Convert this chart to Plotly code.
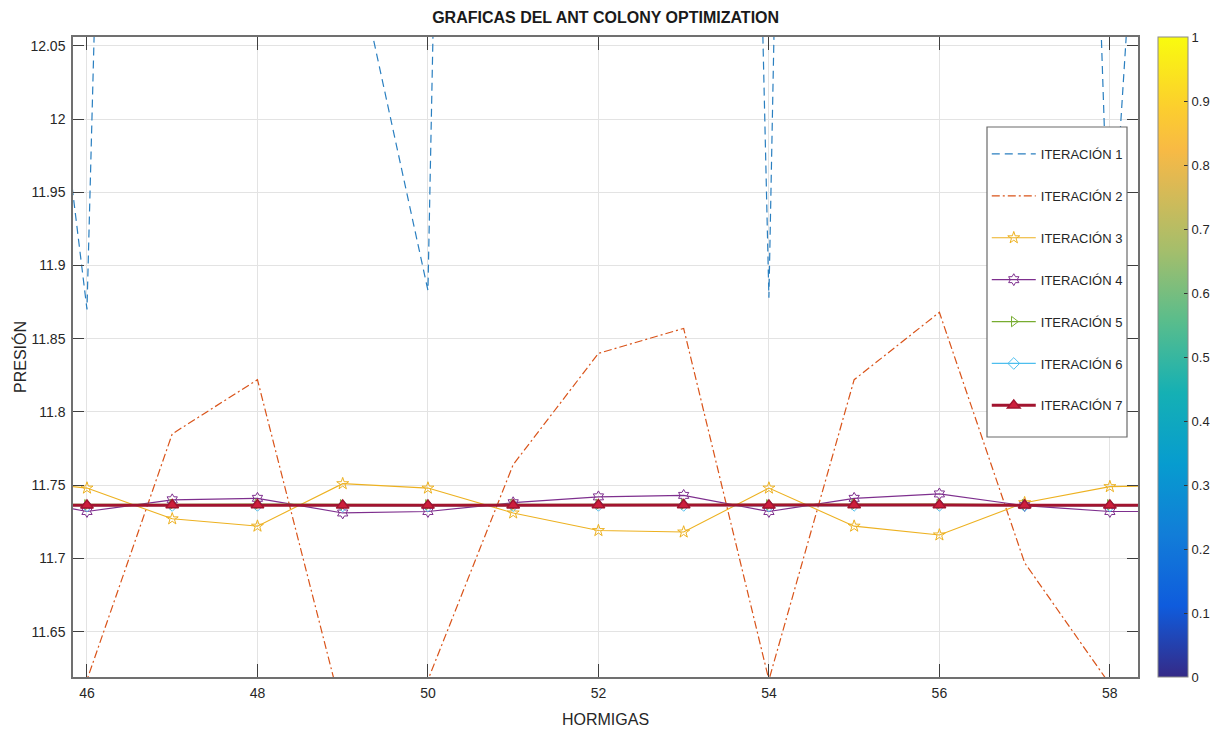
import plotly.graph_objects as go

# ---------------- data ----------------
hormigas = [45, 46, 47, 48, 49, 50, 51, 52, 53, 54, 55, 56, 57, 58, 59]

iter1 = [12.35, 11.870, 14.10, 13.20, 12.151, 11.883, 14.83, 14.00, 14.40, 11.878, 14.90, 14.20, 13.64, 11.880, 12.80]
iter2 = [11.600, 11.617, 11.785, 11.822, 11.594, 11.617, 11.764, 11.840, 11.857, 11.617, 11.822, 11.868, 11.697, 11.614, 11.600]
iter3 = [11.754, 11.748, 11.727, 11.722, 11.751, 11.748, 11.731, 11.719, 11.718, 11.748, 11.722, 11.716, 11.738, 11.749, 11.750]
iter4 = [11.743, 11.732, 11.740, 11.741, 11.731, 11.732, 11.738, 11.742, 11.743, 11.732, 11.741, 11.744, 11.736, 11.732, 11.732]
iter5 = [11.7368, 11.7366, 11.7369, 11.7370, 11.7366, 11.7366, 11.7368, 11.7369, 11.7370, 11.7366, 11.7369, 11.7370, 11.7367, 11.7366, 11.7366]
iter6 = [11.7360, 11.7358, 11.7361, 11.7362, 11.7358, 11.7358, 11.7360, 11.7362, 11.7362, 11.7358, 11.7362, 11.7362, 11.7360, 11.7358, 11.7358]
iter7 = [11.7363, 11.7362, 11.7364, 11.7365, 11.7362, 11.7362, 11.7363, 11.7364, 11.7365, 11.7362, 11.7364, 11.7365, 11.7363, 11.7362, 11.7362]

series_names = ["ITERACIÓN 1", "ITERACIÓN 2", "ITERACIÓN 3", "ITERACIÓN 4",
                "ITERACIÓN 5", "ITERACIÓN 6", "ITERACIÓN 7"]

x_tickvals = [46, 48, 50, 52, 54, 56, 58]
x_ticktext = ["46", "48", "50", "52", "54", "56", "58"]
y_tickvals = [11.65, 11.70, 11.75, 11.80, 11.85, 11.90, 11.95, 12.00, 12.05]
y_ticktext = ["11.65", "11.7", "11.75", "11.8", "11.85", "11.9", "11.95", "12", "12.05"]
cb_tickvals = [0, 0.1, 0.2, 0.3, 0.4, 0.5, 0.6, 0.7, 0.8, 0.9, 1]
cb_ticktext = ["0", "0.1", "0.2", "0.3", "0.4", "0.5", "0.6", "0.7", "0.8", "0.9", "1"]

title_text = "GRAFICAS DEL ANT COLONY OPTIMIZATION"
x_title = "HORMIGAS"
y_title = "PRESIÓN"

# ---------------- style ----------------
FONT = "Liberation Sans, Arial, sans-serif"
TXT = "#262626"

parula = [
    [0.000, "#352a87"], [0.111, "#0f5cdd"], [0.222, "#127dd8"], [0.333, "#079ccf"],
    [0.444, "#15b0b4"], [0.556, "#59bd8c"], [0.667, "#a5be6b"], [0.778, "#e1b952"],
    [0.825, "#f8ba44"], [0.889, "#fcce2e"], [1.000, "#f9fb0e"],
]

styles = [
    dict(color="#2a7fc0", width=1.2, dash="8px,5px", symbol=None),
    dict(color="#D95319", width=1.2, dash="8px,3px,2px,3px", symbol=None),
    dict(color="#EDB120", width=1.1, dash="solid", symbol="star-open"),
    dict(color="#7E2F8E", width=1.2, dash="solid", symbol="hexagram-open"),
    dict(color="#77AC30", width=1.3, dash="solid", symbol="triangle-right-open"),
    dict(color="#4DBEEE", width=1.3, dash="solid", symbol="diamond-open"),
    dict(color="#A2142F", width=3.0, dash="solid", symbol="triangle-up"),
]

all_series = [iter1, iter2, iter3, iter4, iter5, iter6, iter7]

fig = go.Figure()
for i, (ys, name, st) in enumerate(zip(all_series, series_names, styles)):
    kw = dict(
        x=hormigas, y=ys, name=name, legendgroup=f"g{i}",
        line=dict(color=st["color"], width=st["width"], dash=st["dash"]),
    )
    if st["symbol"] is None:
        kw["mode"] = "lines"
    else:
        kw["mode"] = "lines+markers"
        if i == 6:
            kw["marker"] = dict(symbol=st["symbol"], size=11, color="#CE1E3C",
                                line=dict(color="#A2142F", width=1.5))
        else:
            kw["marker"] = dict(symbol=st["symbol"], size=9, color=st["color"],
                                line=dict(color=st["color"], width=1))
    fig.add_trace(go.Scatter(**kw))

# colorbar (parula, 0..1)
fig.add_trace(go.Scatter(
    x=[None], y=[None], mode="markers", showlegend=False, hoverinfo="skip",
    marker=dict(colorscale=parula, cmin=0, cmax=1, color=[0], showscale=True,
                colorbar=dict(
                    x=1.0188, xanchor="left", y=0.5, yanchor="middle",
                    len=1.0, lenmode="fraction", thickness=30, thicknessmode="pixels",
                    ypad=0, xpad=0,
                    outlinewidth=1, outlinecolor="#8a8a8a",
                    tickvals=cb_tickvals, ticktext=cb_ticktext,
                    ticks="inside", ticklen=4, tickcolor="#333333",
                    tickfont=dict(family=FONT, size=13, color=TXT),
                )),
))

L, R, T, B = 73, 83, 37, 59

fig.update_layout(
    width=1221, height=736,
    margin=dict(l=L, r=R, t=T, b=B, autoexpand=False),
    paper_bgcolor="white", plot_bgcolor="white",
    font=dict(family=FONT, size=13, color=TXT),
    title=dict(text=f"<b>{title_text}</b>", x=0.496, xanchor="center", xref="container",
               y=1 - 17 / 736, yanchor="middle", yref="container",
               font=dict(family=FONT, size=16, color="#1a1a1a")),
    showlegend=True,
    legend=dict(
        x=0.858, xanchor="left", y=0.8406, yanchor="top",
        bgcolor="rgba(0,0,0,0)", borderwidth=0,
        tracegroupgap=22, itemwidth=44,
        font=dict(family=FONT, size=13, color=TXT),
    ),
    shapes=[dict(type="rect", xref="paper", yref="paper",
                 x0=(987 - L) / 1065, x1=(1127 - L) / 1065,
                 y0=(677 - 437) / 640, y1=(677 - 127) / 640,
                 fillcolor="white", line=dict(color="#6a6a6a", width=1.2),
                 layer="above")],
)

fig.update_xaxes(
    range=[45.836, 58.33], tickvals=x_tickvals, ticktext=x_ticktext,
    automargin=False,
    showgrid=True, gridcolor="#e3e3e3", gridwidth=1, zeroline=False,
    showline=True, linecolor="#707070", linewidth=1.5, mirror="ticks",
    ticks="inside", ticklen=13, tickwidth=1, tickcolor="#404040",
    tickfont=dict(family=FONT, size=14, color=TXT), ticklabelstandoff=2,
    title=dict(text=x_title, font=dict(family=FONT, size=16, color=TXT), standoff=14),
)
fig.update_yaxes(
    range=[11.619, 12.056], tickvals=y_tickvals, ticktext=y_ticktext,
    automargin=False,
    showgrid=True, gridcolor="#e3e3e3", gridwidth=1, zeroline=False,
    showline=True, linecolor="#707070", linewidth=1.5, mirror="ticks",
    ticks="inside", ticklen=11, tickwidth=1, tickcolor="#404040",
    tickfont=dict(family=FONT, size=14, color=TXT), ticklabelstandoff=3,
    title=dict(text=y_title, font=dict(family=FONT, size=16, color=TXT), standoff=0),
)

fig.write_html("out.html", config={"displayModeBar": False},
               post_script="document.body.style.margin='0';")
